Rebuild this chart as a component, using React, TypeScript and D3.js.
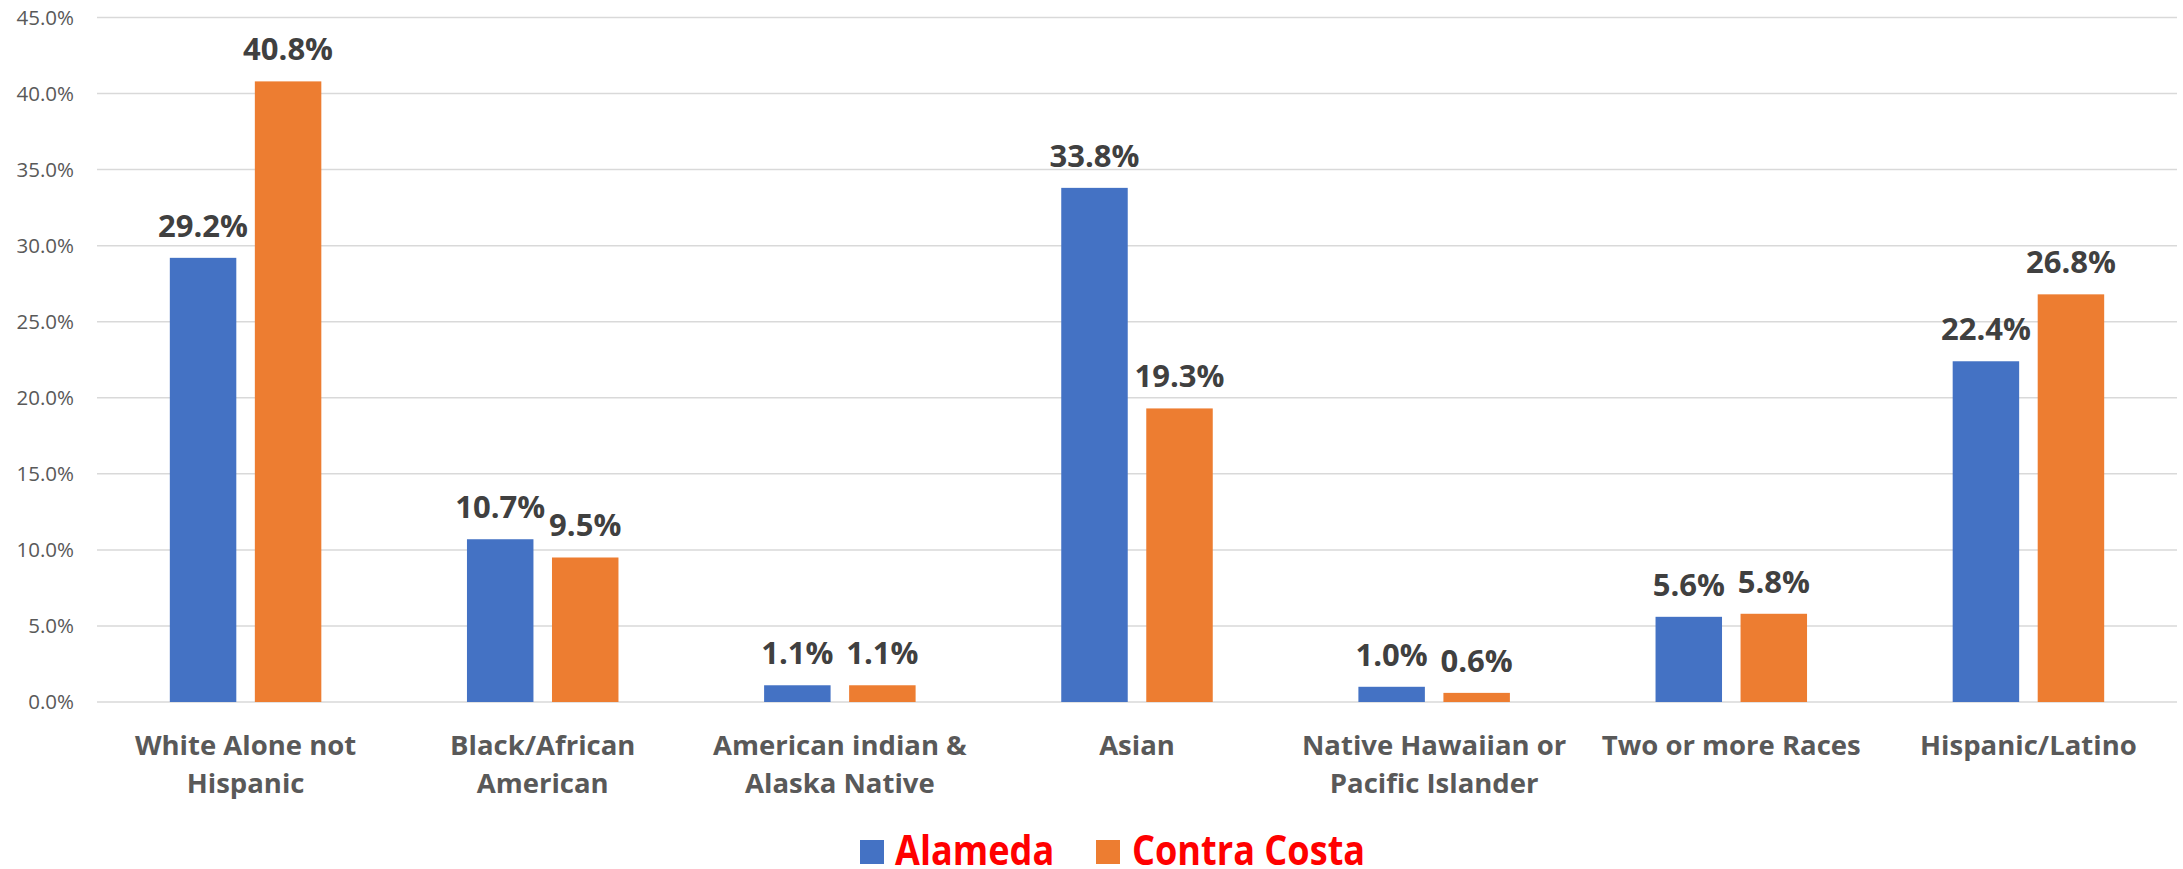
import React from "react";
import * as d3 from "d3";

const categories = [
  "White Alone not Hispanic",
  "Black/African American",
  "American indian & Alaska Native",
  "Asian",
  "Native Hawaiian or Pacific Islander",
  "Two or more Races",
  "Hispanic/Latino",
];
const categoryLines = [
  ["White Alone not", "Hispanic"],
  ["Black/African", "American"],
  ["American indian &", "Alaska Native"],
  ["Asian"],
  ["Native Hawaiian or", "Pacific Islander"],
  ["Two or more Races"],
  ["Hispanic/Latino"],
];
const seriesNames = ["Alameda", "Contra Costa"];
const alameda = [29.2, 10.7, 1.1, 33.8, 1.0, 5.6, 22.4];
const contraCosta = [40.8, 9.5, 1.1, 19.3, 0.6, 5.8, 26.8];
const yTicks = [0, 5, 10, 15, 20, 25, 30, 35, 40, 45];

const W = 2183;
const H = 869;
const colors = ["#4472C4", "#ED7D31"];

export default function App() {
  const x = d3.scaleBand<string>().domain(categories).range([97, 2177]).padding(0);
  const xs = d3.scaleBand<string>().domain(seriesNames).range([-75.75, 75.75]).paddingInner(0.218).paddingOuter(0);
  const y = d3.scaleLinear().domain([0, 45]).range([702, 17.5]);
  const series = [alameda, contraCosta];
  const fmt = (v: number) => v.toFixed(1) + "%";

  return (
    <svg width={W} height={H} style={{ position: "absolute", left: 0, top: 0, background: "#fff" }}>
      <rect x={0} y={0} width={W} height={H} fill="#fff" />
      {yTicks.map((t) => (
        <g key={t}>
          <line x1={97} x2={2177} y1={y(t)} y2={y(t)} stroke="#d9d9d9" strokeWidth={1.5} />
          <text x={74} y={y(t)} dy="0.36em" textAnchor="end" fontFamily="'Open Sans', sans-serif" fontSize={20.5} fill="#595959">
            {t.toFixed(1) + "%"}
          </text>
        </g>
      ))}
      {categories.map((c, i) => {
        const cx = (x(c) as number) + x.bandwidth() / 2;
        return (
          <g key={c}>
            {series.map((s, j) => {
              const bx = cx + (xs(seriesNames[j]) as number);
              const bw = xs.bandwidth();
              return (
                <g key={j}>
                  <rect x={bx} y={y(s[i])} width={bw} height={y(0) - y(s[i])} fill={colors[j]} />
                  <text
                    x={bx + bw / 2}
                    y={y(s[i]) - 21}
                    textAnchor="middle"
                    fontFamily="'Open Sans', sans-serif"
                    fontWeight={700}
                    fontSize={31}
                    fill="#404040"
                  >
                    {fmt(s[i])}
                  </text>
                </g>
              );
            })}
            {categoryLines[i].map((ln, k) => (
              <text
                key={k}
                x={cx}
                y={755 + k * 38}
                textAnchor="middle"
                fontFamily="'Open Sans', sans-serif"
                fontWeight={700}
                fontSize={27.5}
                fill="#595959"
              >
                {ln}
              </text>
            ))}
          </g>
        );
      })}
      <g>
        <rect x={860} y={840} width={24} height={24} fill={colors[0]} />
        <text transform="translate(895,865) scale(0.86,1)" fontFamily="'Open Sans', sans-serif" fontWeight={700} fontSize={42} fill="#FF0000">
          {seriesNames[0]}
        </text>
        <rect x={1096} y={840} width={24} height={24} fill={colors[1]} />
        <text transform="translate(1132,865) scale(0.86,1)" fontFamily="'Open Sans', sans-serif" fontWeight={700} fontSize={42} fill="#FF0000">
          {seriesNames[1]}
        </text>
      </g>
    </svg>
  );
}
